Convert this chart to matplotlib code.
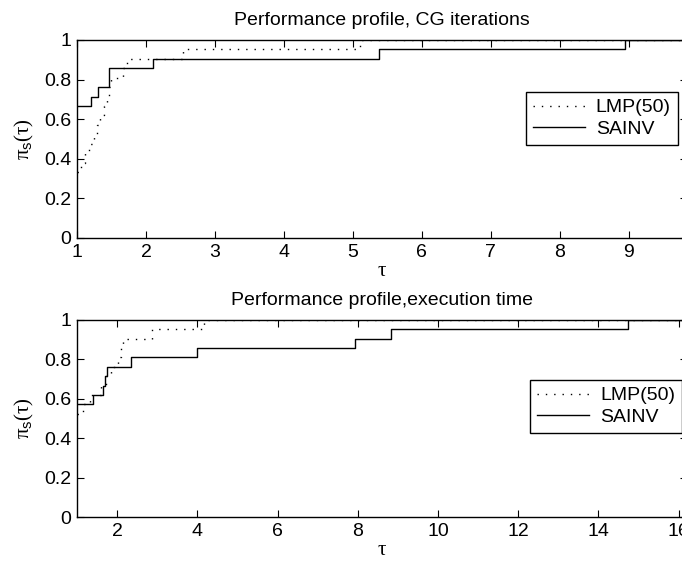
import numpy as np
import matplotlib.pyplot as plt

plt.rcParams['font.family'] = ['Liberation Sans', 'DejaVu Sans']
plt.rcParams['mathtext.fontset'] = 'custom'
plt.rcParams['mathtext.rm'] = 'Liberation Serif'
plt.rcParams['mathtext.sf'] = 'Liberation Sans'

n_prob = 21

# CG iterations
cg_lmp_x = [1, 1.06, 1.12, 1.18, 1.24, 1.29, 1.34, 1.39, 1.44, 1.47, 1.50, 1.66, 1.72, 2.54, 5.1, 10.5]
cg_lmp_n = [7, 8, 9, 10, 11, 12, 13, 14, 15, 16, 17, 18, 19, 20, 21, 21]
cg_sainv_x = [1, 1.2, 1.31, 1.46, 2.10, 5.38, 8.95, 10.5]
cg_sainv_n = [14, 15, 16, 18, 19, 20, 21, 21]

# execution time
t_lmp_x = [1, 1.15, 1.32, 1.6, 1.72, 1.85, 2.02, 2.1, 2.15, 2.88, 4.16, 17]
t_lmp_n = [11, 12, 13, 14, 15, 16, 17, 18, 19, 20, 21, 21]
t_sainv_x = [1, 1.41, 1.66, 1.70, 1.75, 2.34, 3.99, 7.94, 8.82, 14.73, 17]
t_sainv_n = [12, 13, 14, 15, 16, 17, 18, 19, 20, 21, 21]

fig = plt.figure(figsize=(6.82, 5.63), dpi=100)

# axes run slightly past the right edge, like the cropped original
ax1 = fig.add_axes([0.1129, 0.5773, 0.894, 0.3517])
ax2 = fig.add_axes([0.1129, 0.0817, 0.894, 0.350])

panels = [
    (ax1, cg_lmp_x, cg_lmp_n, cg_sainv_x, cg_sainv_n, "Performance profile, CG iterations",
     (1, 9.84), np.arange(1, 10), (0.736, 0.737)),
    (ax2, t_lmp_x, t_lmp_n, t_sainv_x, t_sainv_n, "Performance profile,execution time",
     (1, 16.2), np.arange(2, 18, 2), (0.743, 0.695)),
]

for ax, lx, ln, sx, sn, title, xlim, xt, lpos in panels:
    ax.step(lx, np.array(ln) / n_prob, where="post", color="black",
            linestyle=(0, (1, 5)), lw=1.0, label="LMP(50)")
    ax.step(sx, np.array(sn) / n_prob, where="post", color="black",
            lw=1.0, label="SAINV")
    ax.set_xticks(xt)
    ax.set_xlim(*xlim)
    ax.set_ylim(0, 1)
    ax.set_yticks([0, 0.2, 0.4, 0.6, 0.8, 1])
    ax.set_yticklabels(["0", "0.2", "0.4", "0.6", "0.8", "1"])
    ax.tick_params(direction="in", top=True, right=True, length=5, width=0.8,
                   labelsize=14, pad=4)
    for s in ax.spines.values():
        s.set_linewidth(1.0)
    ax.set_title(title, fontsize=14, pad=11)
    ax.set_xlabel(r"$\mathrm{\tau}$", fontsize=15, labelpad=0)
    ax.set_ylabel(r"$\mathrm{\pi}_{\mathsf{s}}(\mathrm{\tau})$", fontsize=15, labelpad=6)
    leg = ax.legend(loc="upper left", bbox_to_anchor=lpos, borderaxespad=0,
                    fancybox=False, edgecolor="black", fontsize=14,
                    handlelength=2.7, handletextpad=0.55, labelspacing=0.2,
                    borderpad=0.35, framealpha=1)
    leg.get_frame().set_linewidth(1.0)

fig.savefig("out.png", dpi=100)
